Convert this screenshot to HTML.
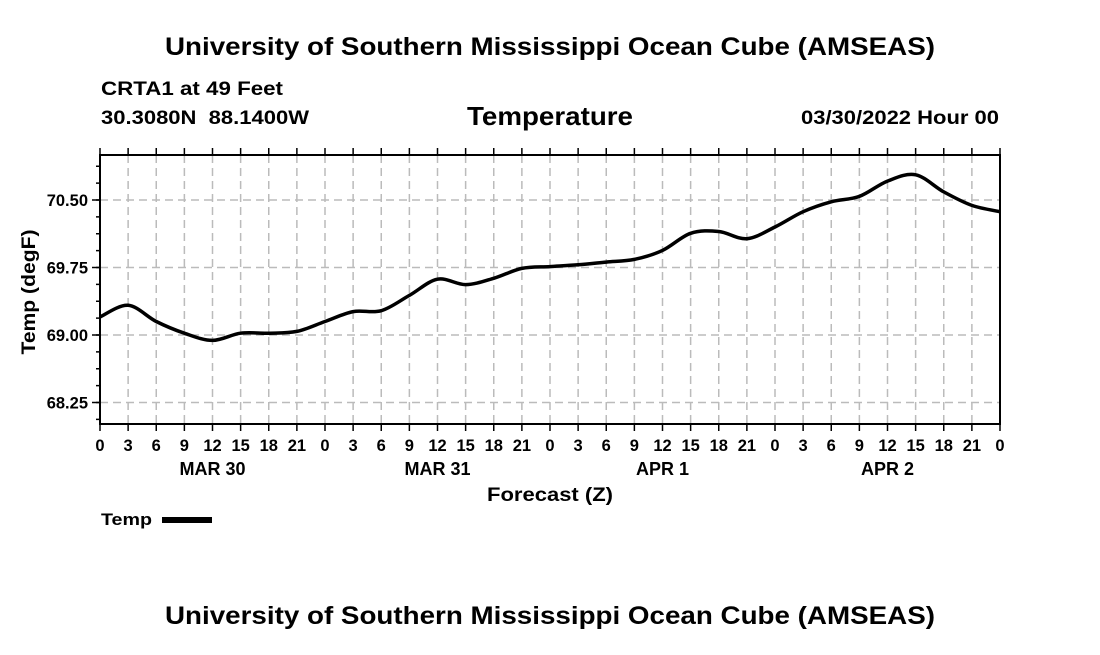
<!DOCTYPE html>
<html><head><meta charset="utf-8"><style>
body{margin:0;background:#fff;}
svg text{font-family:"Liberation Sans",Arial,sans-serif;font-weight:bold;fill:#000;}
</style></head><body>
<svg id="chart" width="1100" height="650" xmlns="http://www.w3.org/2000/svg">
<rect width="1100" height="650" fill="#fff"/>
<text x="165" y="55" font-size="25" textLength="770" lengthAdjust="spacingAndGlyphs">University of Southern Mississippi Ocean Cube (AMSEAS)</text>
<text x="101" y="95" font-size="19" textLength="182" lengthAdjust="spacingAndGlyphs">CRTA1 at 49 Feet</text>
<text x="101" y="124" font-size="19" textLength="208" lengthAdjust="spacingAndGlyphs" xml:space="preserve">30.3080N  88.1400W</text>
<text x="467" y="125" font-size="26" textLength="166" lengthAdjust="spacingAndGlyphs">Temperature</text>
<text x="801" y="124" font-size="19" textLength="198" lengthAdjust="spacingAndGlyphs">03/30/2022 Hour 00</text>
<g id="grid"></g>
<path id="line" fill="none" stroke="#000" stroke-width="3.5" stroke-linejoin="round"/>
<rect x="100" y="155" width="900" height="269" fill="none" stroke="#000" stroke-width="2"/>
<g id="axes"></g>
<text x="487" y="501" font-size="19" textLength="126" lengthAdjust="spacingAndGlyphs">Forecast (Z)</text>
<text transform="translate(35,292) rotate(-90)" font-size="19" text-anchor="middle" textLength="125" lengthAdjust="spacingAndGlyphs">Temp (degF)</text>
<text x="101" y="525" font-size="17" textLength="51" lengthAdjust="spacingAndGlyphs">Temp</text>
<rect x="162" y="517" width="50" height="6" fill="#000"/>
<text x="165" y="624" font-size="25" textLength="770" lengthAdjust="spacingAndGlyphs">University of Southern Mississippi Ocean Cube (AMSEAS)</text>
</svg>
<script>
const hours=[0,3,6,9,12,15,18,21,24,27,30,33,36,39,42,45,48,51,54,57,60,63,66,69,72,75,78,81,84,87,90,93,96];
const temps=[69.20,69.33,69.15,69.02,68.94,69.02,69.02,69.04,69.15,69.26,69.27,69.44,69.62,69.56,69.63,69.74,69.76,69.78,69.81,69.84,69.94,70.13,70.15,70.07,70.20,70.37,70.48,70.54,70.71,70.78,70.59,70.44,70.37];
const yTicks=[68.25,69.00,69.75,70.50];
const dayLabels=["MAR 30","MAR 31","APR 1","APR 2"];
const X0=100,X1=1000,Y0=424,Y1=155;
const xs=h=>X0+h/96*(X1-X0);
const ys=v=>335-(v-69)*90;
const NS="http://www.w3.org/2000/svg";
const grid=document.getElementById('grid'),axes=document.getElementById('axes');
function mk(tag,attrs,parent){const e=document.createElementNS(NS,tag);for(const k in attrs)e.setAttribute(k,attrs[k]);parent.appendChild(e);return e;}
for(let h=0;h<=96;h+=3){
  const x=xs(h);
  if(h>0&&h<96){const g=mk('line',{x1:x,x2:x,y1:Y1,y2:Y0,stroke:'#bbb','stroke-width':1.5,'stroke-dasharray':'8,5'},grid);
  
  }
  mk('line',{x1:x,x2:x,y1:Y1-7,y2:Y1,stroke:'#000','stroke-width':1.5},axes);
  mk('line',{x1:x,x2:x,y1:Y0,y2:Y0+7,stroke:'#000','stroke-width':1.5},axes);
  const t=mk('text',{x:x,y:451,'font-size':16.5,'text-anchor':'middle'},axes);
  t.textContent=String(h%24);
  
  
}
dayLabels.forEach((d,i)=>{
  const t=mk('text',{x:xs(i*24+12),y:475,'font-size':18,'text-anchor':'middle'},axes);
  t.textContent=d;
  
  
});
for(let v=68.25-0.1875*3;v<=71.0;v+=0.1875){
  const y=ys(v); if(y<Y1||y>Y0)continue;
  mk('line',{x1:X0-4,x2:X0,y1:y,y2:y,stroke:'#000','stroke-width':1.5},axes);
}
yTicks.forEach(v=>{
  const y=ys(v);
  const g=mk('line',{x1:X0,x2:X1,y1:y,y2:y,stroke:'#bbb','stroke-width':1.5,'stroke-dasharray':'8,5'},grid);
  
  
  mk('line',{x1:X0-8,x2:X0,y1:y,y2:y,stroke:'#000','stroke-width':1.5},axes);
  const t=mk('text',{x:X0-12,y:y+6,'font-size':16.5,'text-anchor':'end'},axes);
  t.textContent=v.toFixed(2);
  
  
});
const P=hours.map((h,i)=>[xs(h),ys(temps[i])]);
let d='M'+P[0][0]+','+P[0][1];
for(let i=0;i<P.length-1;i++){
  const p0=P[Math.max(0,i-1)],p1=P[i],p2=P[i+1],p3=P[Math.min(P.length-1,i+2)];
  const c1=[p1[0]+(p2[0]-p0[0])/6,p1[1]+(p2[1]-p0[1])/6];
  const c2=[p2[0]-(p3[0]-p1[0])/6,p2[1]-(p3[1]-p1[1])/6];
  d+=' C'+c1+' '+c2+' '+p2;
}
document.getElementById('line').setAttribute('d',d);
</script>
</body></html>
